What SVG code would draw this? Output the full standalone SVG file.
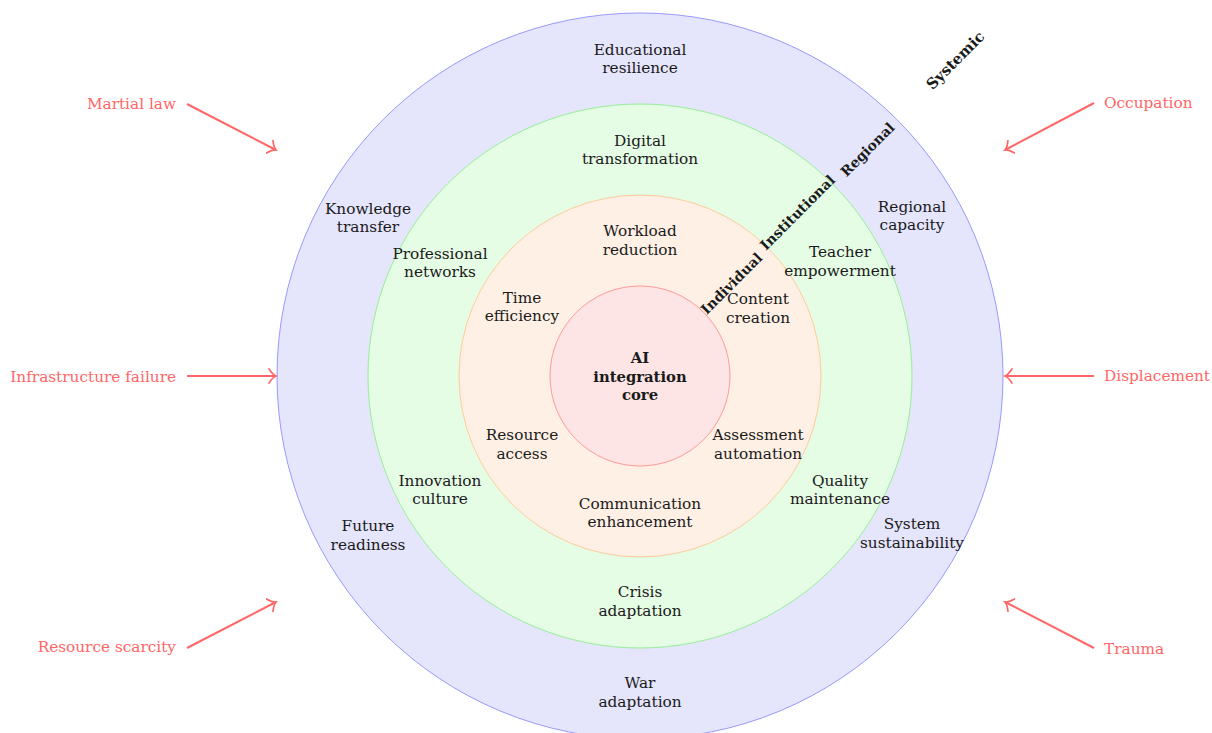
<svg xmlns="http://www.w3.org/2000/svg" width="1212" height="733" viewBox="0 0 1212 733">
<defs>
<style>
text{font-family:"DejaVu Serif","Liberation Serif",serif;font-size:15.3px;fill:#1a1a1a;text-anchor:middle}
.b{font-weight:bold;font-size:14.8px}
.lv{font-weight:bold;font-size:14px}
.sy{font-size:15px}
.p{fill:#ff6666}
.l{text-anchor:end}
.r{text-anchor:start}
.ar{stroke:#ff6666;stroke-width:2;fill:none}
</style>
<marker id="ah" viewBox="-8 -8 10 16" markerWidth="10" markerHeight="16" refX="0" refY="0" orient="auto" markerUnits="userSpaceOnUse">
<path d="M-7,-7 Q-3,-1 0,0 Q-3,1 -7,7" stroke="#ff6666" stroke-width="1.7" fill="none" stroke-linecap="round"/>
</marker>
</defs>
<rect width="1212" height="733" fill="#fff"/>
<g id="ring-systemic"><circle cx="640" cy="376" r="363" fill="#e5e5fc" stroke="#9999ff" stroke-width="1"/></g>
<g id="ring-regional"><circle cx="640" cy="376" r="272" fill="#e5fce5" stroke="#99ee99" stroke-width="1"/></g>
<g id="ring-institutional"><circle cx="640" cy="376" r="181" fill="#fff0e5" stroke="#ffcc99" stroke-width="1"/></g>
<g id="core"><circle cx="640" cy="376" r="90" fill="#fde5e5" stroke="#ff9999" stroke-width="1"/>
<text class="b" x="640" y="363">AI</text><text class="b" x="640" y="382">integration</text><text class="b" x="640" y="400">core</text></g>

<g id="level-labels">
<text class="lv sy" transform="translate(959,64) rotate(-45)">Systemic</text>
<text class="lv" transform="translate(871,153) rotate(-45)">Regional</text>
<text class="lv" transform="translate(801,216) rotate(-45)">Institutional</text>
<text class="lv" transform="translate(735,287) rotate(-45)">Individual</text>
</g>

<g id="inner-labels">
<text x="640" y="236">Workload</text><text x="640" y="255">reduction</text>
<text x="522" y="303">Time</text><text x="522" y="321">efficiency</text>
<text x="758" y="304">Content</text><text x="758" y="323">creation</text>
<text x="522" y="440">Resource</text><text x="522" y="459">access</text>
<text x="758" y="440">Assessment</text><text x="758" y="459">automation</text>
<text x="640" y="509">Communication</text><text x="640" y="527">enhancement</text>
</g>
<g id="middle-labels">
<text x="640" y="146">Digital</text><text x="640" y="164">transformation</text>
<text x="440" y="259">Professional</text><text x="440" y="277">networks</text>
<text x="840" y="257">Teacher</text><text x="840" y="276">empowerment</text>
<text x="440" y="486">Innovation</text><text x="440" y="504">culture</text>
<text x="840" y="486">Quality</text><text x="840" y="504">maintenance</text>
<text x="640" y="597">Crisis</text><text x="640" y="616">adaptation</text>
</g>
<g id="outer-labels">
<text x="640" y="55">Educational</text><text x="640" y="73">resilience</text>
<text x="368" y="214">Knowledge</text><text x="368" y="232">transfer</text>
<text x="912" y="212">Regional</text><text x="912" y="230">capacity</text>
<text x="368" y="531">Future</text><text x="368" y="550">readiness</text>
<text x="912" y="529">System</text><text x="912" y="548">sustainability</text>
<text x="640" y="688">War</text><text x="640" y="707">adaptation</text>
</g>

<g id="pressures">
<text class="p l" x="176" y="109">Martial law</text>
<text class="p l" x="176" y="382">Infrastructure failure</text>
<text class="p l" x="176" y="652">Resource scarcity</text>
<text class="p r" x="1104" y="108">Occupation</text>
<text class="p r" x="1104" y="381">Displacement</text>
<text class="p r" x="1104" y="654">Trauma</text>
</g>

<g id="connectors">
<line class="ar" x1="187" y1="104" x2="276" y2="150" marker-end="url(#ah)"/>
<line class="ar" x1="187" y1="376" x2="276" y2="376" marker-end="url(#ah)"/>
<line class="ar" x1="187" y1="648" x2="276" y2="602" marker-end="url(#ah)"/>
<line class="ar" x1="1094" y1="103" x2="1005" y2="150" marker-end="url(#ah)"/>
<line class="ar" x1="1094" y1="376" x2="1005" y2="376" marker-end="url(#ah)"/>
<line class="ar" x1="1094" y1="648" x2="1005" y2="602" marker-end="url(#ah)"/>
</g>
</svg>
